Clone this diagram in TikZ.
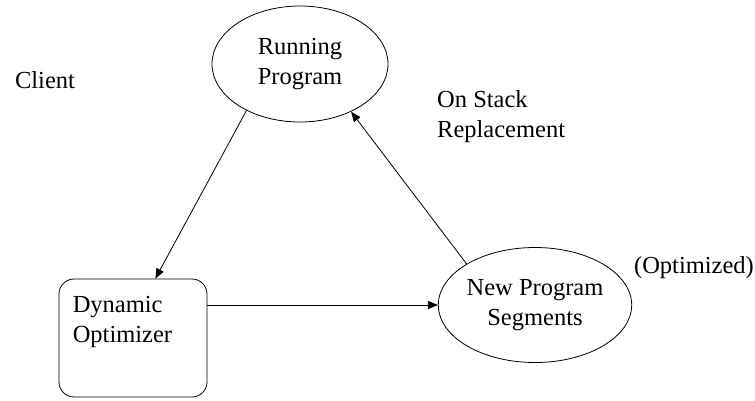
\documentclass[tikz,border=0pt]{standalone}
\usepackage{fontspec}
\setmainfont{Liberation Serif}
\usetikzlibrary{shapes.geometric,arrows.meta,calc}

\tikzset{
  every node/.style={font=\fontsize{24.5}{30}\selectfont, inner sep=0pt},
  bubble/.style={ellipse, draw, line width=0.8pt, align=center},
  procbox/.style={draw, line width=0.8pt, rounded corners=15pt,
                  minimum width=148pt, minimum height=118pt},
  flow/.style={line width=0.8pt, -{Triangle[length=10pt,width=8pt]}},
  plain/.style={align=left}
}

\begin{document}
\begin{tikzpicture}[x=1pt,y=-1pt]
  \useasboundingbox (0,0) rectangle (755,400);

  % the three stages of the loop
  \node[bubble, minimum width=176pt, minimum height=116pt] (run) at (300,64) {Running\\Program};
  \node[procbox] (dyn) at (133,338) {};
  \node[plain, anchor=north west] (dyntext) at ($(dyn.north west)+(14,17)$) {Dynamic\\Optimizer};
  \node[bubble, minimum width=184pt, minimum height=115pt] (new) at (535,305) {New Program\\Segments};

  % side annotations
  \node[plain] (client) at (45,80) {Client};
  \node[plain, anchor=west] (osr) at (437,117) {On Stack\\Replacement};
  \node[plain] (opt) at (694,268) {(Optimized)};

  % connectors
  \coordinate (dyntop) at ($(dyn.north west)!0.65!(dyn.north east)$);
  \draw[flow] (run.221) -- (dyntop);
  \draw[flow] (dyn.east |- new.west) -- (new.west);
  \draw[flow] (new.149) -- (run.317);
\end{tikzpicture}
\end{document}
